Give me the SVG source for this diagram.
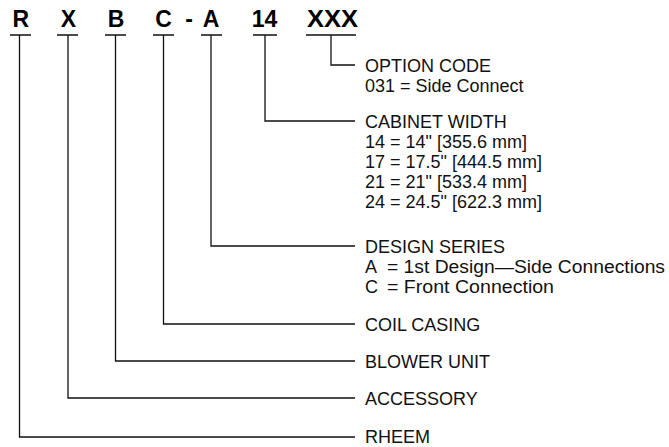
<svg xmlns="http://www.w3.org/2000/svg" width="669" height="447" viewBox="0 0 669 447">
<style>
.code{font-family:"Liberation Sans",Arial,sans-serif;font-weight:bold;font-size:23px;fill:#000;text-anchor:middle}
.lbl{font-family:"Liberation Sans",Arial,sans-serif;font-size:18px;fill:#111}
.ln{stroke:#111;stroke-width:1.3;fill:none}
</style>
<rect width="669" height="447" fill="#fff"/>
<g id="code">
<text class="code" x="20.8" y="26.5">R</text>
<text class="code" x="68.3" y="26.5">X</text>
<text class="code" x="116" y="26.5">B</text>
<text class="code" x="163.5" y="26.5">C</text>
<text class="code" x="189" y="26.5">-</text>
<text class="code" x="211" y="26.5">A</text>
<text class="code" x="264.5" y="26.5">14</text>
<text class="code" x="332.5" y="26.5" textLength="51" lengthAdjust="spacingAndGlyphs">XXX</text>
</g>
<g id="connectors" class="ln">
<path d="M10 35H31M19.5 35V437H355"/>
<path d="M57 35H78M68 35V398H355"/>
<path d="M105 35H126M115.5 35V361H355"/>
<path d="M153 35H174M163.5 35V324H355"/>
<path d="M201 35H222M211 35V246H355"/>
<path d="M253 35H277M265 35V121H355"/>
<path d="M306 35H356M331 35V65H355"/>
</g>
<g id="option-code" class="lbl">
<text x="365" y="72">OPTION CODE</text>
<text x="365" y="92">031 = Side Connect</text>
</g>
<g id="cabinet-width" class="lbl">
<text x="365" y="128">CABINET WIDTH</text>
<text x="365" y="148">14 = 14" [355.6 mm]</text>
<text x="365" y="168">17 = 17.5" [444.5 mm]</text>
<text x="365" y="188">21 = 21" [533.4 mm]</text>
<text x="365" y="208">24 = 24.5" [622.3 mm]</text>
</g>
<g id="design-series" class="lbl">
<text x="365" y="253">DESIGN SERIES</text>
<text x="365" y="273">A</text>
<text x="387" y="273" textLength="278" lengthAdjust="spacingAndGlyphs">= 1st Design—Side Connections</text>
<text x="365" y="293">C</text>
<text x="387" y="293" textLength="167" lengthAdjust="spacingAndGlyphs">= Front Connection</text>
</g>
<g id="coil-casing" class="lbl"><text x="365" y="331">COIL CASING</text></g>
<g id="blower-unit" class="lbl"><text x="365" y="368">BLOWER UNIT</text></g>
<g id="accessory" class="lbl"><text x="365" y="405">ACCESSORY</text></g>
<g id="rheem" class="lbl"><text x="365" y="443">RHEEM</text></g>
</svg>
